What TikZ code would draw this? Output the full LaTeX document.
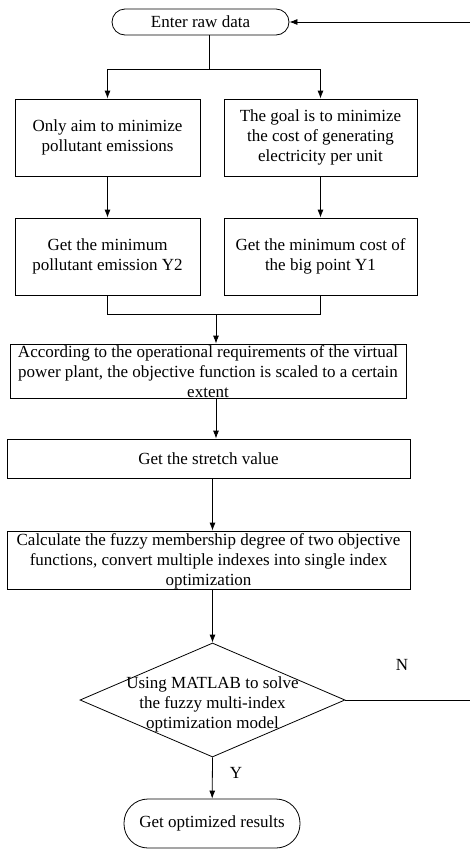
\documentclass[tikz,border=0pt]{standalone}
\usepackage{fontspec}
\setmainfont{Liberation Serif}
\usetikzlibrary{arrows.meta,shapes.geometric}
\tikzset{
  box/.style={draw,rectangle,inner sep=0pt,align=center},
  term/.style={draw,rectangle,inner sep=0pt,align=center},
  txt/.style={inner sep=0pt,align=center}
}
\begin{document}
\begin{tikzpicture}[x=1pt,y=-1pt,line width=0.8pt,>={Latex[length=8pt,width=6pt]},
  font=\fontsize{17}{20}\selectfont]
  \useasboundingbox (0,0) rectangle (469,849);
  \node[term,rounded corners=13pt,minimum width=177pt,minimum height=26pt] (start) at (200.5,22) {Enter raw data};
  \node[box,minimum width=185pt,minimum height=77pt] (aimL) at (107.5,137.5) {Only aim to minimize\\pollutant emissions};
  \node[box,minimum width=193pt,minimum height=77pt] (aimR) at (320.5,137.5) {The goal is to minimize\\the cost of generating\\electricity per unit};
  \node[box,minimum width=185pt,minimum height=77pt] (minY2) at (107.5,256.5) {Get the minimum\\pollutant emission Y2};
  \node[box,minimum width=193pt,minimum height=77pt] (minY1) at (320.5,256.5) {Get the minimum cost of\\the big point Y1};
  \node[box,minimum width=396pt,minimum height=54pt] (scale) at (208,371) {};
  \node[txt] (scaletxt) at (208,372) {According to the operational requirements of the virtual\\power plant, the objective function is scaled to a certain\\extent};
  \node[box,minimum width=403pt,minimum height=39pt] (stretch) at (208.5,458.5) {Get the stretch value};
  \node[box,minimum width=403pt,minimum height=58pt] (fuzzy) at (208.5,560) {};
  \node[txt] (fuzzytxt) at (208.5,561) {Calculate the fuzzy membership degree of two objective\\functions, convert multiple indexes into single index\\optimization};
  \node[draw,diamond,inner sep=0pt,minimum width=265pt,minimum height=114pt] (dec) at (212.5,700) {};
  \node[txt] (dectxt) at (212.5,704) {Using MATLAB to solve\\the fuzzy multi-index\\optimization model};
  \node[term,rounded corners=24pt,minimum width=176pt,minimum height=49pt] (stop) at (212,823.5) {Get optimized results};
  \node[txt] (no) at (402,665) {N};
  \node[txt] (yes) at (236,773) {Y};
  \coordinate (split) at (209,69);
  \coordinate (join) at (216,314);
  \coordinate (back) at (474,700);
  \draw (start.south -| split) -- (split);
  \draw[->] (split) -| (aimL);
  \draw[->] (split) -| (aimR);
  \draw[->] (aimL) -- (minY2);
  \draw[->] (aimR) -- (minY1);
  \draw (minY2) |- (join);
  \draw (minY1) |- (join);
  \draw[->] (join) -- (join |- scale.north);
  \draw[->] (join |- scale.south) -- (join |- stretch.north);
  \draw[->] (dec |- stretch.south) -- (dec |- fuzzy.north);
  \draw[->] (dec |- fuzzy.south) -- (dec.north);
  \draw[->] (dec.south) -- (stop);
  \draw[->] (dec.east) -- (back) |- (start.east);
\end{tikzpicture}
\end{document}
